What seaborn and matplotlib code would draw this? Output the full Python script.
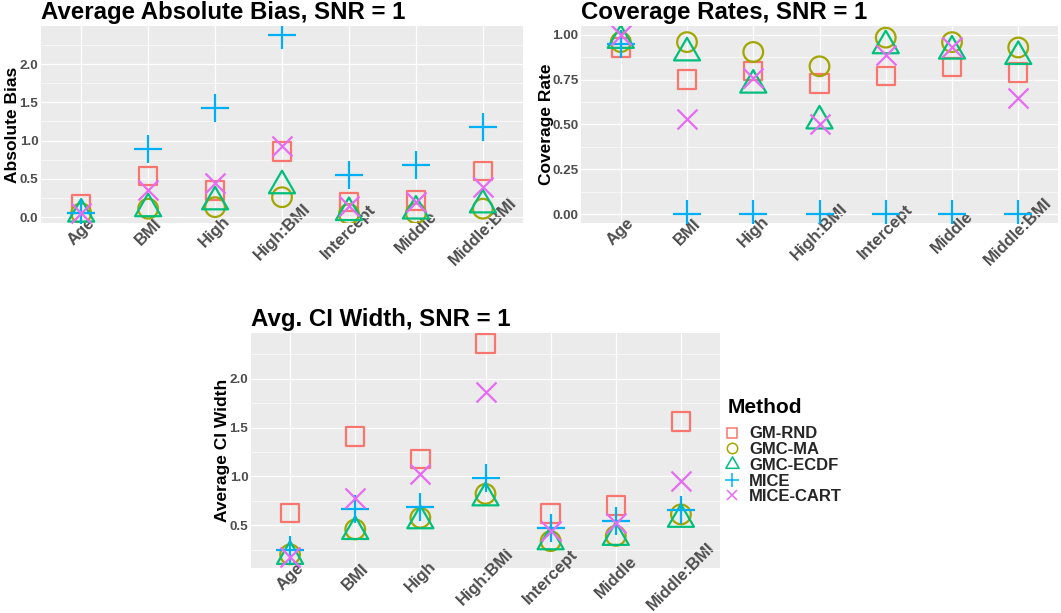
import numpy as np
import pandas as pd
import matplotlib
matplotlib.use("Agg")
import matplotlib.pyplot as plt
import seaborn as sns
from matplotlib.lines import Line2D
from matplotlib.path import Path
from matplotlib.markers import MarkerStyle
from matplotlib.ticker import MultipleLocator, FormatStrFormatter
from matplotlib.transforms import ScaledTranslation

# ---- data -------------------------------------------------------------
terms = ["Age", "BMI", "High", "High:BMI", "Intercept", "Middle", "Middle:BMI"]
methods = ["GM-RND", "GMC-MA", "GMC-ECDF", "MICE", "MICE-CART"]

# average absolute bias
bias_gm_rnd = [0.17, 0.54, 0.35, 0.86, 0.20, 0.22, 0.60]
bias_gmc_ma = [0.05, 0.11, 0.13, 0.26, 0.04, 0.05, 0.11]
bias_gmc_ecdf = [0.04, 0.11, 0.20, 0.41, 0.06, 0.08, 0.16]
bias_mice = [0.06, 0.89, 1.43, 2.38, 0.55, 0.68, 1.18]
bias_mice_cart = [0.05, 0.35, 0.44, 0.93, 0.15, 0.20, 0.39]

# coverage rates
cov_gm_rnd = [0.93, 0.75, 0.80, 0.73, 0.77, 0.82, 0.79]
cov_gmc_ma = [0.96, 0.96, 0.905, 0.825, 0.985, 0.96, 0.93]
cov_gmc_ecdf = [0.97, 0.90, 0.72, 0.52, 0.94, 0.91, 0.88]
cov_mice = [0.95, 0.0, 0.0, 0.0, 0.0, 0.0, 0.0]
cov_mice_cart = [1.0, 0.53, 0.76, 0.50, 0.89, 0.93, 0.65]

# average confidence interval width
ciw_gm_rnd = [0.626, 1.41, 1.18, 2.36, 0.62, 0.70, 1.56]
ciw_gmc_ma = [0.20, 0.456, 0.575, 0.82, 0.336, 0.39, 0.61]
ciw_gmc_ecdf = [0.18, 0.435, 0.545, 0.78, 0.33, 0.375, 0.56]
ciw_mice = [0.24, 0.67, 0.69, 0.98, 0.475, 0.54, 0.66]
ciw_mice_cart = [0.17, 0.78, 1.02, 1.86, 0.44, 0.52, 0.95]


def long_frame(series):
    rows = []
    for method, vals in zip(methods, series):
        for term, v in zip(terms, vals):
            rows.append({"Term": term, "Method": method, "value": v})
    return pd.DataFrame(rows)


bias_df = long_frame([bias_gm_rnd, bias_gmc_ma, bias_gmc_ecdf, bias_mice, bias_mice_cart])
cov_df = long_frame([cov_gm_rnd, cov_gmc_ma, cov_gmc_ecdf, cov_mice, cov_mice_cart])
ciw_df = long_frame([ciw_gm_rnd, ciw_gmc_ma, ciw_gmc_ecdf, ciw_mice, ciw_mice_cart])

# ---- styling ----------------------------------------------------------
sns.set_theme(style="darkgrid", rc={
    "axes.facecolor": "#EBEBEB",
    "grid.color": "white",
    "figure.facecolor": "white",
})
plt.rcParams["font.family"] = ["Liberation Sans", "DejaVu Sans"]
plt.rcParams["font.weight"] = "bold"

palette = dict(zip(methods, ["#F8766D", "#A3A500", "#00BF7D", "#00B0F6", "#E76BF3"]))

# equilateral open triangle centred on its centroid
tri_path = Path([(0, 1), (-0.866, -0.5), (0.866, -0.5), (0, 1)],
                [Path.MOVETO, Path.LINETO, Path.LINETO, Path.CLOSEPOLY])
marker_map = {
    "GM-RND": "s",
    "GMC-MA": "o",
    "GMC-ECDF": MarkerStyle(tri_path),
    "MICE": "+",
    "MICE-CART": "x",
}
size_map = {"GM-RND": 177, "GMC-MA": 200, "GMC-ECDF": 470, "MICE": 415, "MICE-CART": 207}
filled_shape = {"GM-RND": True, "GMC-MA": True, "GMC-ECDF": True, "MICE": False, "MICE-CART": False}
LW = 1.6

W, H = 1061, 613
fig = plt.figure(figsize=(W / 100, H / 100), dpi=100)


def rect(l, t, r, b):
    return [l / W, 1 - b / H, (r - l) / W, (b - t) / H]


def draw_panel(ax, df, title, ylabel, major, minor, fmt, ylab_px):
    for m in methods:
        sub = df[df["Method"] == m]
        c = palette[m]
        if filled_shape[m]:
            sns.scatterplot(data=sub, x="Term", y="value", ax=ax, marker=marker_map[m],
                            s=size_map[m], facecolor="none", edgecolor=c,
                            linewidth=LW, legend=False, zorder=3)
        else:
            sns.scatterplot(data=sub, x="Term", y="value", ax=ax, marker=marker_map[m],
                            s=size_map[m], color=c, linewidth=LW, legend=False, zorder=3)
    lo, hi = df["value"].min(), df["value"].max()
    pad = 0.05 * (hi - lo)
    ax.set_ylim(lo - pad, hi + pad)
    ax.set_xlim(-0.6, len(terms) - 0.4)
    ax.set_xticks(range(len(terms)))
    ax.set_xticklabels(terms, rotation=45, ha="center", va="center",
                       fontsize=12, fontweight="bold", color="#4D4D4D")
    for lab in ax.get_xticklabels():
        lab.set_transform(lab.get_transform() + ScaledTranslation(0.045, 0, fig.dpi_scale_trans))
    ax.yaxis.set_major_locator(MultipleLocator(major))
    ax.yaxis.set_minor_locator(MultipleLocator(minor))
    ax.yaxis.set_major_formatter(FormatStrFormatter(fmt))
    ax.tick_params(axis="x", which="major", length=2, width=0.8, color="#333333",
                   pad=4.5)
    ax.tick_params(axis="y", which="major", length=1.5, width=0.8, color="#333333",
                   pad=0.3, labelsize=9.7, labelcolor="#4D4D4D")
    for lab in ax.get_yticklabels():
        lab.set_fontweight("bold")
    ax.tick_params(which="minor", length=0)
    ax.grid(which="major", color="white", linewidth=0.9)
    ax.grid(which="minor", axis="y", color="white", linewidth=0.45)
    ax.set_axisbelow(True)
    for sp in ax.spines.values():
        sp.set_visible(False)
    ax.set_xlabel("")
    ax.set_ylabel(ylabel, fontsize=12.5, fontweight="bold", color="black")
    width_px = ax.get_position().width * W
    ax.yaxis.set_label_coords(-ylab_px / width_px, 0.5)
    ax.set_title(title, loc="left", fontsize=17.3, fontweight="bold", color="black", pad=5)


ax1 = fig.add_axes(rect(41, 26, 523, 223))
ax2 = fig.add_axes(rect(581, 26, 1058, 223))
ax3 = fig.add_axes(rect(251, 333, 720, 568))

draw_panel(ax1, bias_df, "Average Absolute Bias, SNR = 1", "Absolute Bias", 0.5, 0.25, "%.1f", 21)
draw_panel(ax2, cov_df, "Coverage Rates, SNR = 1", "Coverage Rate", 0.25, 0.125, "%.2f", 27)
draw_panel(ax3, ciw_df, "Avg. CI Width, SNR = 1", "Average CI Width", 0.5, 0.25, "%.1f", 21.5)

# legend
leg_size = {"GM-RND": 7.0, "GMC-MA": 7.5, "GMC-ECDF": 11.0, "MICE": 10.0, "MICE-CART": 7.5}
handles = []
for m in methods:
    if filled_shape[m]:
        h = Line2D([], [], linestyle="none", marker=marker_map[m], markersize=leg_size[m],
                   markerfacecolor="none", markeredgecolor=palette[m], markeredgewidth=1.1)
    else:
        h = Line2D([], [], linestyle="none", marker=marker_map[m], markersize=leg_size[m],
                   color=palette[m], markeredgewidth=1.1)
    handles.append(h)

fig.text(728 / W, 1 - 413 / H, "Method", fontsize=15, fontweight="bold",
         color="black", ha="left", va="baseline")
leg = fig.legend(handles, methods, loc="upper left",
                 bbox_to_anchor=(724 / W, 1 - 426.5 / H), frameon=False,
                 prop={"size": 12, "weight": "bold"},
                 handlelength=0.9, handletextpad=0.6, labelspacing=0.04,
                 borderpad=0, borderaxespad=0)

fig.savefig("out.png", dpi=100)
